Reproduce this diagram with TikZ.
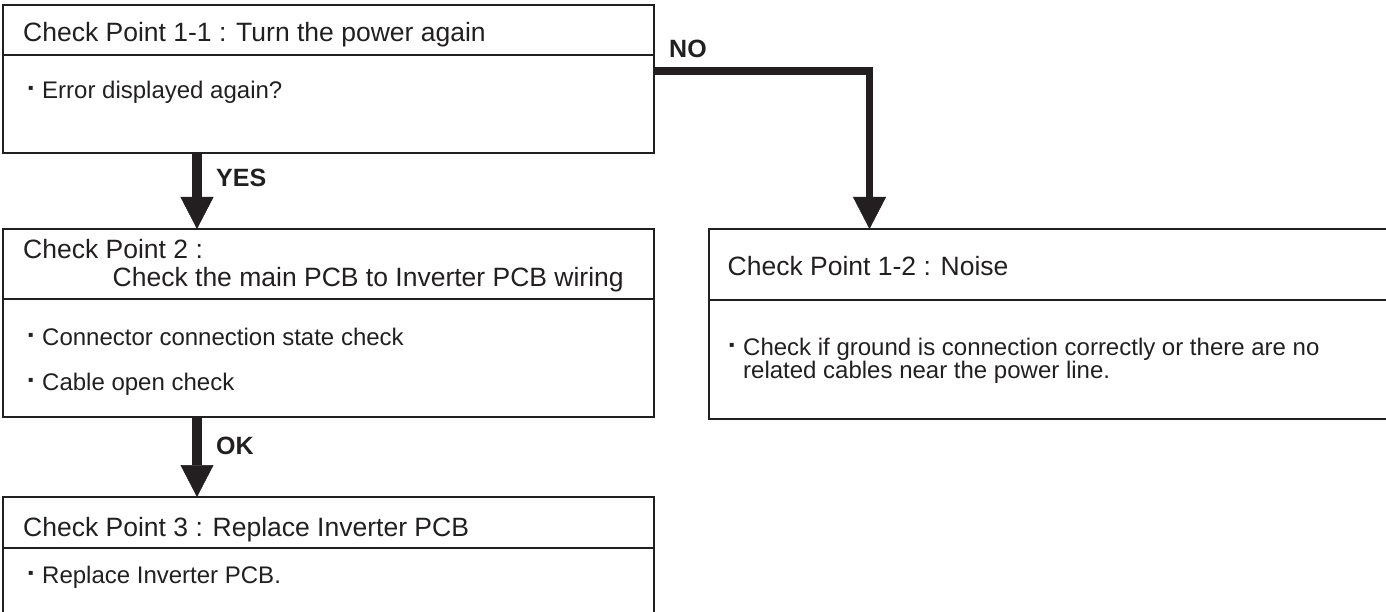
\documentclass[tikz,border=0pt]{standalone}
\usepackage{fontspec}
\setmainfont{Liberation Sans}
\newfontfamily\dejavu{DejaVu Sans}
\usetikzlibrary{arrows.meta}
\definecolor{ink}{RGB}{35,31,32}
\newcommand\bulsq{\makebox[14pt][l]{\raisebox{8pt}{\dejavu\fontsize{8}{8}\selectfont ▪}}}
\begin{document}
\begin{tikzpicture}[x=1pt,y=-1pt,
  boxpart/.style={draw=ink, line width=1.8pt, rectangle, inner sep=0pt, outer sep=0pt, anchor=north west},
  ttl/.style={anchor=base west, inner sep=0pt, text=ink, font=\fontsize{26.5}{30}\selectfont},
  bodytxt/.style={anchor=base west, inner sep=0pt, text=ink, font=\fontsize{24}{28}\selectfont},
  lbl/.style={anchor=base west, inner sep=0pt, text=ink, font=\bfseries\fontsize{25}{28}\selectfont},
  flow/.style={draw=ink, line width=9.5pt, -{Triangle[width=33pt,length=32pt,line width=0.5pt]}},
  ]
\useasboundingbox (0,0) rectangle (1386,612);
\clip (0,0) rectangle (1386,612);
% boxes
\node[boxpart, minimum width=651pt, minimum height=50pt] (h1) at (3,5) {};
\node[boxpart, minimum width=651pt, minimum height=98pt] (b1) at (3,55) {};
\node[boxpart, minimum width=651pt, minimum height=70pt] (h2) at (3,229) {};
\node[boxpart, minimum width=651pt, minimum height=118pt] (b2) at (3,299) {};
\node[boxpart, minimum width=651pt, minimum height=51pt] (h3) at (3,497) {};
\node[boxpart, minimum width=651pt, minimum height=80pt] (b3) at (3,548) {};
\node[boxpart, minimum width=690pt, minimum height=71pt] (h4) at (709,229) {};
\node[boxpart, minimum width=690pt, minimum height=119pt] (b4) at (709,300) {};
% helper coordinates
\coordinate (xa) at (197,0);
\coordinate (xn) at (869.5,0);
\coordinate (ny) at (0,71);
% connectors
\draw[flow] (b1.south -| xa) -- (h2.north -| xa);
\draw[flow] (b2.south -| xa) -- (h3.north -| xa);
\draw[flow, line width=7.5pt] (b1.east |- ny) -- (xn |- ny) -- (h4.north -| xn);
% labels
\node[lbl] (lyes) at (216,187) {YES};
\node[lbl] (lok) at (216,454) {OK};
\node[lbl] (lno) at (669,58) {NO};
% titles
\node[ttl] (t1) at (23,42) {Check Point 1-1 : Turn the power again};
\node[ttl] (t2a) at (23,259) {Check Point 2 :};
\node[ttl] (t2b) at (112.5,287) {Check the main PCB to Inverter PCB wiring};
\node[ttl] (t3) at (23,536) {Check Point 3 : Replace Inverter PCB};
\node[ttl] (t4) at (727.5,276) {Check Point 1-2 : Noise};
% body texts
\node[bodytxt] (e1) at (28,98.5) {\bulsq Error displayed again?};
\node[bodytxt] (e2) at (28,345.5) {\bulsq Connector connection state check};
\node[bodytxt] (e3) at (28,390.5) {\bulsq Cable open check};
\node[bodytxt] (e4) at (28,583) {\bulsq Replace Inverter PCB.};
\node[bodytxt] (e5) at (729,355) {\bulsq Check if ground is connection correctly or there are no};
\node[bodytxt] (e6) at (743,378) {related cables near the power line.};
\end{tikzpicture}
\end{document}
